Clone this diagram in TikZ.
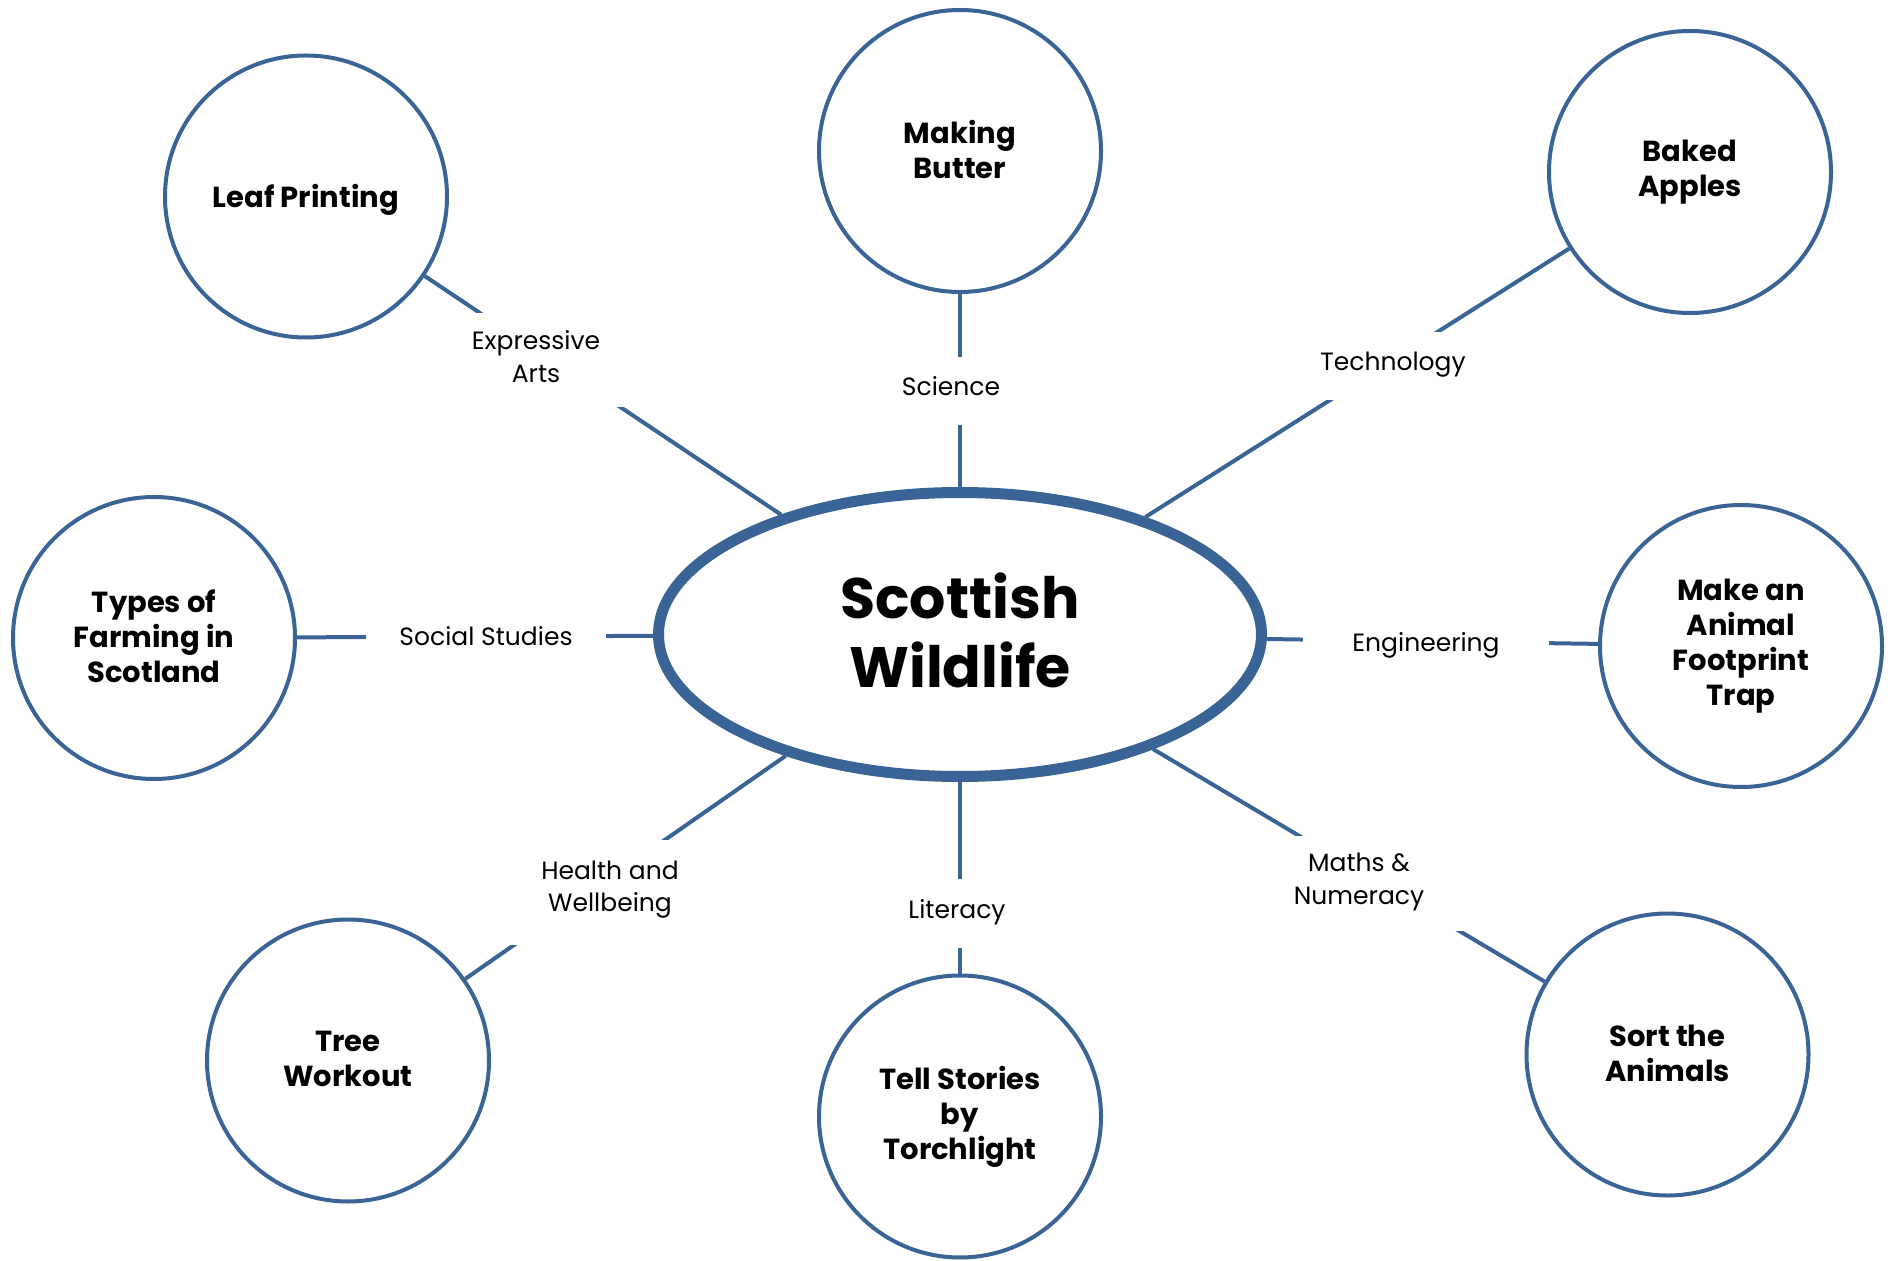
\documentclass[tikz,border=0pt]{standalone}
\usepackage{fontspec}
\setmainfont{Poppins}
\usetikzlibrary{shapes.geometric}
\definecolor{mapblue}{HTML}{3A6496}
\newcommand\topicstrut{\rule[-1.5pt]{0pt}{16pt}}
\newcommand\hubstrut{\rule[-4.5pt]{0pt}{32pt}}
\newcommand\lblstrut{\rule[-5pt]{0pt}{14pt}}
\begin{document}
\begin{tikzpicture}[x=0.5pt,y=-0.5pt,
  topic/.style={circle, draw=mapblue, line width=2pt, fill=white,
    minimum size=141pt, inner sep=0pt, align=center,
    font=\bfseries\fontsize{14.5}{17.5}\selectfont,
    execute at begin node=\topicstrut, execute at end node=\topicstrut},
  hub/.style={ellipse, draw=mapblue, line width=5.5pt, fill=white,
    minimum width=301.5pt, minimum height=142pt, inner sep=0pt, align=center,
    font=\bfseries\fontsize{28.5}{34.5}\selectfont,
    execute at begin node=\hubstrut, execute at end node=\hubstrut},
  link/.style={draw=mapblue, line width=2pt},
  lbl/.style={fill=white, inner sep=0pt, align=center,
    font=\fontsize{12.5}{16.3}\selectfont,
    execute at begin node=\lblstrut, execute at end node=\lblstrut}]
\useasboundingbox (0,0) rectangle (1896,1261);
\node[hub] (hub) at (960,634.5) {Scottish\\Wildlife};
\node[topic] (leaf) at (306,196.5) {Leaf Printing};
\node[topic] (butter) at (960,151) {Making\\Butter};
\node[topic] (apples) at (1690,172) {Baked\\Apples};
\node[topic] (farming) at (154,638) {Types of\\Farming in\\Scotland};
\node[topic] (trap) at (1741,646) {Make an\\Animal\\Footprint\\Trap};
\node[topic] (tree) at (348,1060.5) {Tree\\Workout};
\node[topic] (stories) at (960,1116.5) {Tell Stories\\by\\Torchlight};
\node[topic] (sort) at (1667.5,1054.5) {Sort the\\Animals};
\draw[link] (leaf) -- (hub);
\draw[link] (butter) -- (hub);
\draw[link] (apples) -- (hub);
\draw[link] (farming) -- (hub);
\draw[link] (trap) -- (hub);
\draw[link] (tree) -- (hub);
\draw[link] (stories) -- (hub);
\draw[link] (sort) -- (hub);
\node[lbl, minimum width=90pt, minimum height=47pt] (lexp) at (536,360) {\raisebox{-1.5pt}{Expressive}\\\raisebox{-1.5pt}{Arts}};
\node[lbl, minimum width=60pt, minimum height=34pt] (lsci) at (951,391) {Science};
\node[lbl, minimum width=85pt, minimum height=34pt] (ltec) at (1393,366) {Technology};
\node[lbl, minimum width=120pt, minimum height=30pt] (lsoc) at (486,641) {Social Studies};
\node[lbl, minimum width=123pt, minimum height=30pt] (leng) at (1426,647) {Engineering};
\node[lbl, minimum width=100pt, minimum height=52.5pt] (lhea) at (610,892.5) {\raisebox{1.2pt}{Health and}\\\raisebox{1.2pt}{Wellbeing}};
\node[lbl, minimum width=60pt, minimum height=34.5pt] (llit) at (957,913.5) {Literacy};
\node[lbl, minimum width=105pt, minimum height=47.5pt] (lmat) at (1359,883.5) {Maths \&\\Numeracy};
\end{tikzpicture}
\end{document}
